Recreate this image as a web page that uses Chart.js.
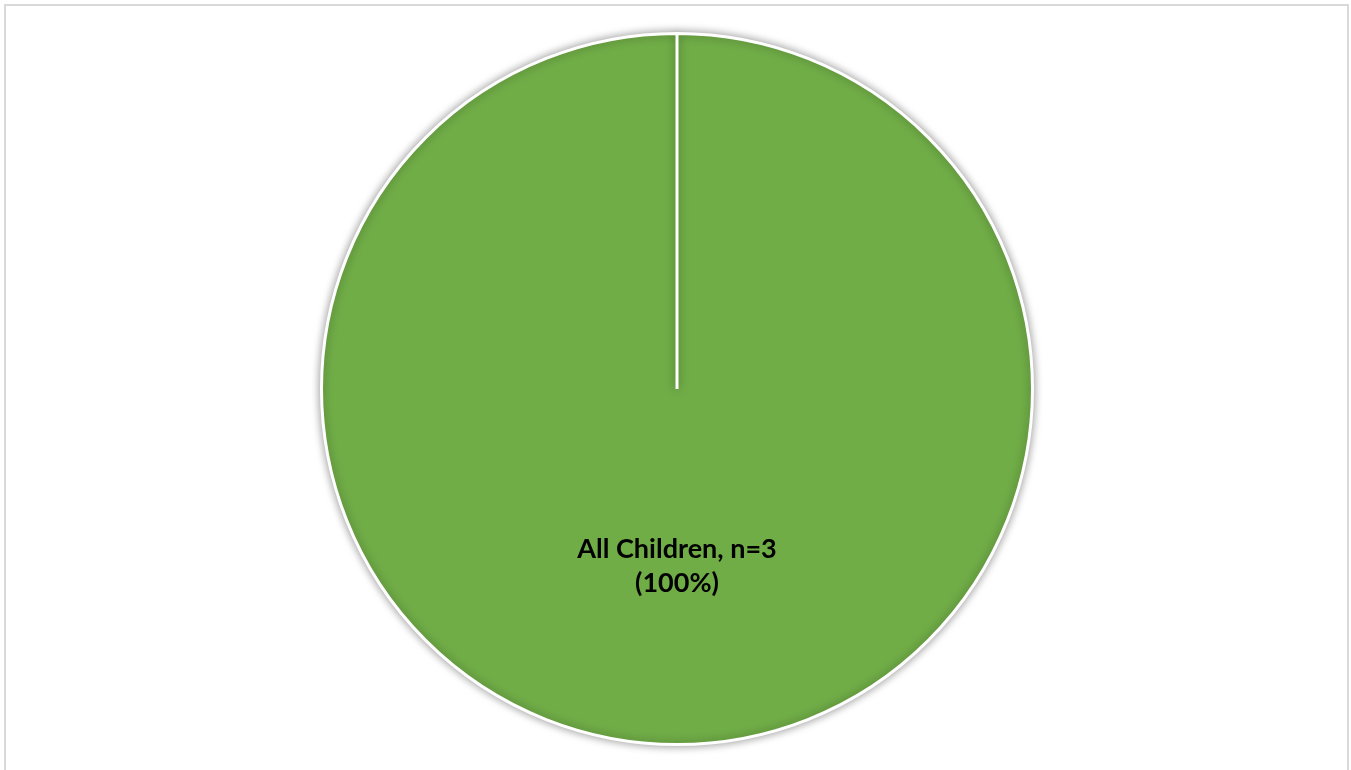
<!DOCTYPE html>
<html>
<head>
<meta charset="utf-8">
<script src="https://cdn.jsdelivr.net/npm/chart.js@4"></script>
<style>
  html, body { margin: 0; padding: 0; background: #ffffff; }
  #wrap { width: 1351px; height: 770px; position: relative; }
</style>
</head>
<body>
<div id="wrap"><canvas id="c" width="1351" height="770"></canvas></div>
<script>
// Pie data
const categories = ['All Children'];
const counts = [3];
const percents = [100];
const sliceColors = ['#70ad47'];

// Light frame around the chart
const framePlugin = {
  id: 'frame',
  beforeDraw(chart) {
    const ctx = chart.ctx;
    ctx.save();
    ctx.strokeStyle = '#d9d9d9';
    ctx.lineWidth = 2;
    ctx.strokeRect(5, 5, 1343, 800);
    ctx.restore();
  }
};

// Soft shadow beneath the pie
const shadowPlugin = {
  id: 'pieShadow',
  beforeDatasetDraw(chart) {
    const ctx = chart.ctx;
    ctx.save();
    ctx.shadowColor = 'rgba(0,0,0,0.4)';
    ctx.shadowBlur = 10;
    ctx.shadowOffsetX = 0;
    ctx.shadowOffsetY = 0;
  },
  afterDatasetDraw(chart) {
    chart.ctx.restore();
  }
};

// Category, count and share written inside each slice
const sliceLabels = {
  id: 'sliceLabels',
  afterDatasetsDraw(chart) {
    const ctx = chart.ctx;
    const meta = chart.getDatasetMeta(0);
    ctx.save();
    ctx.fillStyle = '#000000';
    ctx.font = 'bold 27px Lato, "Open Sans", sans-serif';
    ctx.textAlign = 'center';
    ctx.textBaseline = 'middle';
    meta.data.forEach((arc, i) => {
      const p = arc.getCenterPoint();
      const lines = [categories[i] + ', n=' + counts[i], '(' + percents[i] + '%)'];
      const lh = 34;
      lines.forEach((t, k) => {
        ctx.fillText(t, p.x, p.y + (k - (lines.length - 1) / 2) * lh);
      });
    });
    ctx.restore();
  }
};

new Chart(document.getElementById('c'), {
  type: 'pie',
  data: {
    labels: categories,
    datasets: [{
      data: counts,
      backgroundColor: sliceColors,
      borderColor: '#ffffff',
      borderWidth: 3
    }]
  },
  options: {
    responsive: false,
    animation: false,
    layout: { padding: { top: 32, bottom: 24, left: 3, right: 0 } },
    plugins: {
      legend: { display: false },
      tooltip: { enabled: false }
    }
  },
  plugins: [framePlugin, shadowPlugin, sliceLabels]
});
</script>
</body>
</html>
